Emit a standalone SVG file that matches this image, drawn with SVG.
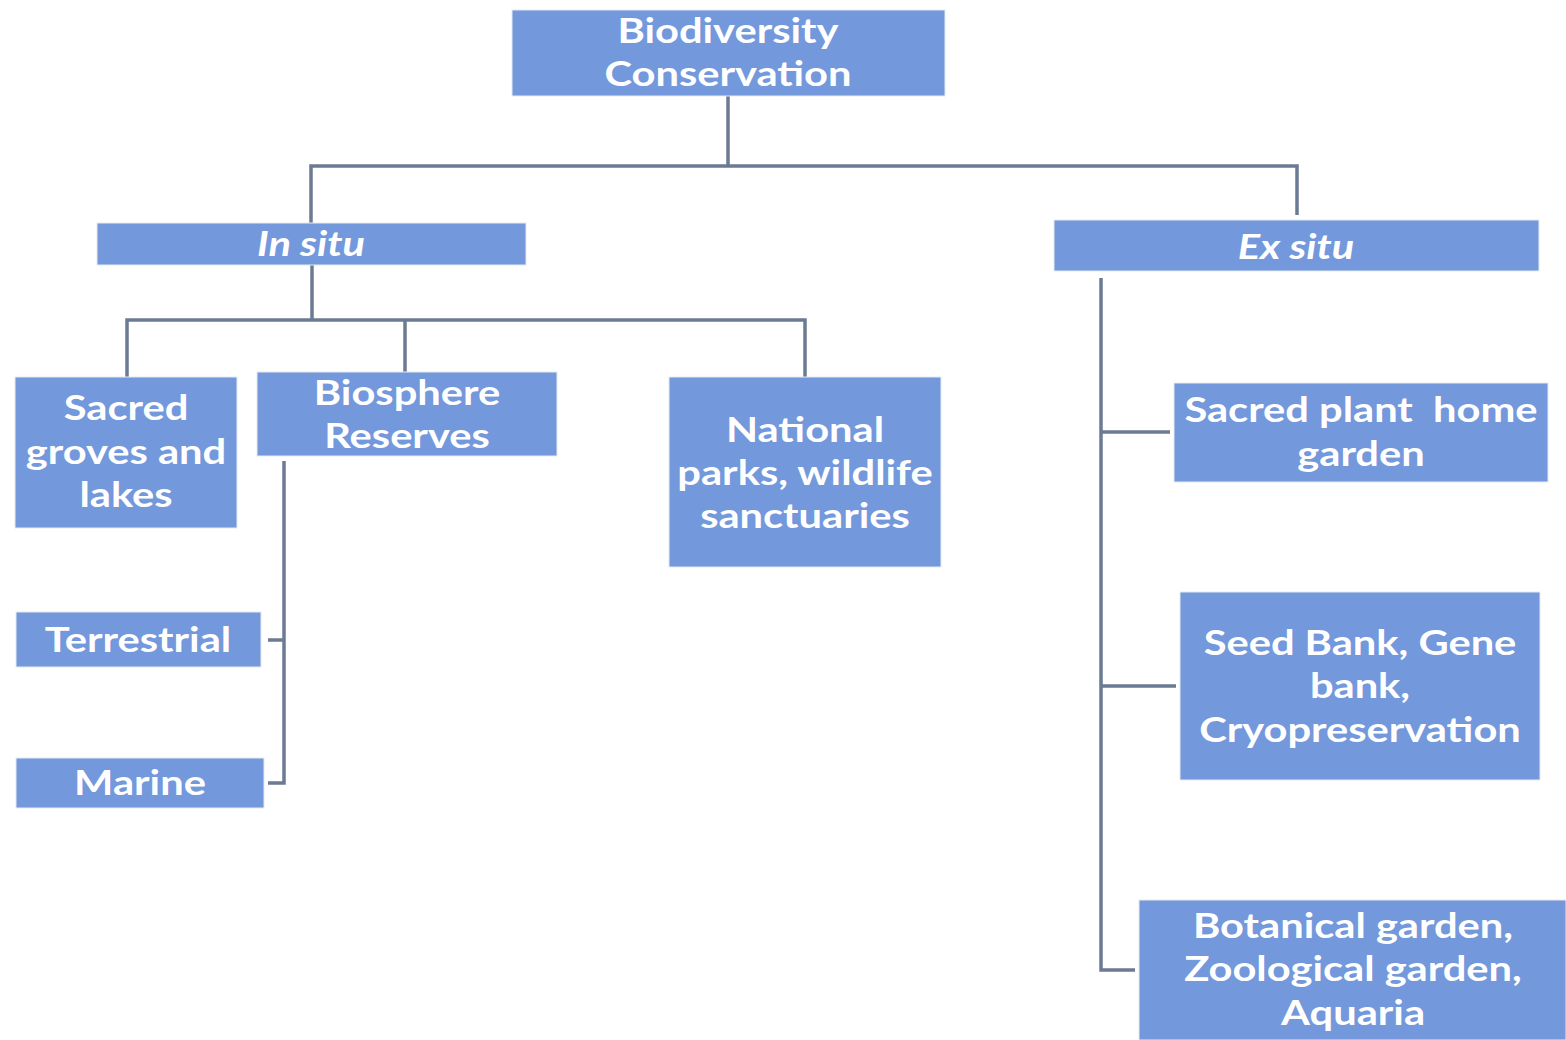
<svg xmlns="http://www.w3.org/2000/svg" width="1566" height="1040" viewBox="0 0 1566 1040">
<style>
.box{fill:#7398dc;stroke:#e6eaf0;stroke-width:1}
.t{font-family:Lato,"Open Sans",sans-serif;font-size:35px;font-weight:700;fill:#ffffff;text-anchor:middle;transform-box:fill-box;transform-origin:center;transform:scaleX(1.19)}
.i{font-style:italic}
.c{fill:none;stroke:#6b7b93;stroke-width:3.5}
</style>
<rect width="1566" height="1040" fill="#ffffff"/>
<g id="connectors">
<path class="c" d="M728,96 V165 M311,223 V166 H1297 V215"/>
<path class="c" d="M312,265 V320 M127,377 V320 H805 V377 M405,320 V372"/>
<path class="c" d="M284,461 V783 H268 M268,640 H284"/>
<path class="c" d="M1101,278 V970 H1135 M1101,432 H1170 M1101,686 H1176"/>
</g>
<g id="n-root"><rect class="box" x="512" y="10" width="433" height="86"/><text class="t" x="728" y="43">Biodiversity</text><text class="t" x="728" y="86">Conservation</text></g>
<g id="n-insitu"><rect class="box" x="97" y="223" width="429" height="42"/><text class="t i" x="311" y="256">In situ</text></g>
<g id="n-exsitu"><rect class="box" x="1054" y="220" width="485" height="51"/><text class="t i" x="1296" y="259">Ex situ</text></g>
<g id="n-sacred"><rect class="box" x="15" y="377" width="222" height="151"/><text class="t" x="126" y="420">Sacred</text><text class="t" x="126" y="464">groves and</text><text class="t" x="126" y="507">lakes</text></g>
<g id="n-biosphere"><rect class="box" x="257" y="372" width="300" height="84"/><text class="t" x="407" y="405">Biosphere</text><text class="t" x="407" y="448">Reserves</text></g>
<g id="n-national"><rect class="box" x="669" y="377" width="272" height="190"/><text class="t" x="805" y="442">National</text><text class="t" x="805" y="485">parks, wildlife</text><text class="t" x="805" y="528">sanctuaries</text></g>
<g id="n-terrestrial"><rect class="box" x="16" y="612" width="245" height="55"/><text class="t" x="138" y="652">Terrestrial</text></g>
<g id="n-marine"><rect class="box" x="16" y="758" width="248" height="50"/><text class="t" x="140" y="795">Marine</text></g>
<g id="n-sacredplant"><rect class="box" x="1174" y="383" width="374" height="99"/><text class="t" x="1361" y="422" xml:space="preserve">Sacred plant  home</text><text class="t" x="1361" y="466">garden</text></g>
<g id="n-seedbank"><rect class="box" x="1180" y="592" width="360" height="188"/><text class="t" x="1360" y="655">Seed Bank, Gene</text><text class="t" x="1360" y="698">bank,</text><text class="t" x="1360" y="742">Cryopreservation</text></g>
<g id="n-botanical"><rect class="box" x="1139" y="900" width="427" height="140"/><text class="t" x="1353" y="938">Botanical garden,</text><text class="t" x="1353" y="981">Zoological garden,</text><text class="t" x="1353" y="1025">Aquaria</text></g>
</svg>
